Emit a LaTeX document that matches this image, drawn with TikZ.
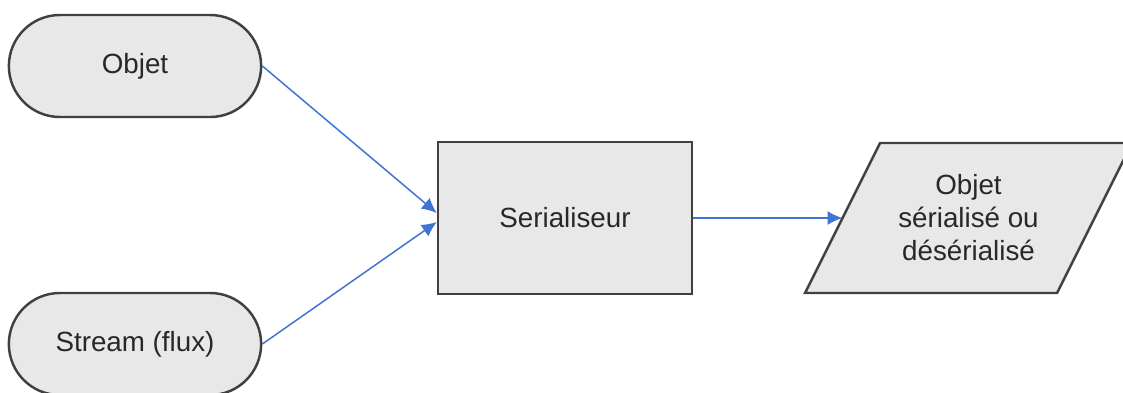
\documentclass[tikz,border=0pt]{standalone}
\usepackage{fontspec}
\setmainfont{Liberation Sans}
\usetikzlibrary{arrows.meta,shapes.misc}
\definecolor{F}{RGB}{232, 232, 232}
\definecolor{K}{RGB}{64, 64, 64}
\definecolor{T}{RGB}{40, 40, 40}
\definecolor{B}{RGB}{62, 116, 212}

\tikzset{
  boite/.style={draw=K, line width=1.4pt, fill=F, align=center, text=T,
    font=\fontsize{15.8}{18.8}\selectfont},
  texte/.style={align=center, text=T, font=\fontsize{15.8}{18.8}\selectfont},
  fleche/.style={draw=B, line width=0.85pt, -{Latex[length=3mm,width=2.8mm]}}
}

\begin{document}
\begin{tikzpicture}
  \useasboundingbox (0,0) rectangle (22.46,7.84);
  \node[boite, rounded rectangle, minimum width=5.28cm, minimum height=2.04cm] (objet) at (2.70,6.52) {Objet};
  \node[boite, rounded rectangle, minimum width=5.28cm, minimum height=2.04cm] (stream) at (2.70,0.96) {Stream (flux)};
  \node[boite, rectangle, minimum width=5.08cm, minimum height=3.04cm] (ser) at (11.30,3.48) {Serialiseur};
  % parallelogramme
  \draw[boite] (16.10,1.98) -- (21.14,1.98) -- (22.64,4.98) -- (17.60,4.98) -- cycle;
  \node[texte] (res) at (19.37,3.48) {Objet\\sérialisé ou\\désérialisé};
  \coordinate (resw) at (16.85,3.48);
  \draw[fleche] (objet.east) -- ([yshift=0.1cm]ser.west);
  \draw[fleche] (stream.east) -- ([yshift=-0.08cm]ser.west);
  \draw[fleche] (ser.east) -- (resw);
\end{tikzpicture}
\end{document}
